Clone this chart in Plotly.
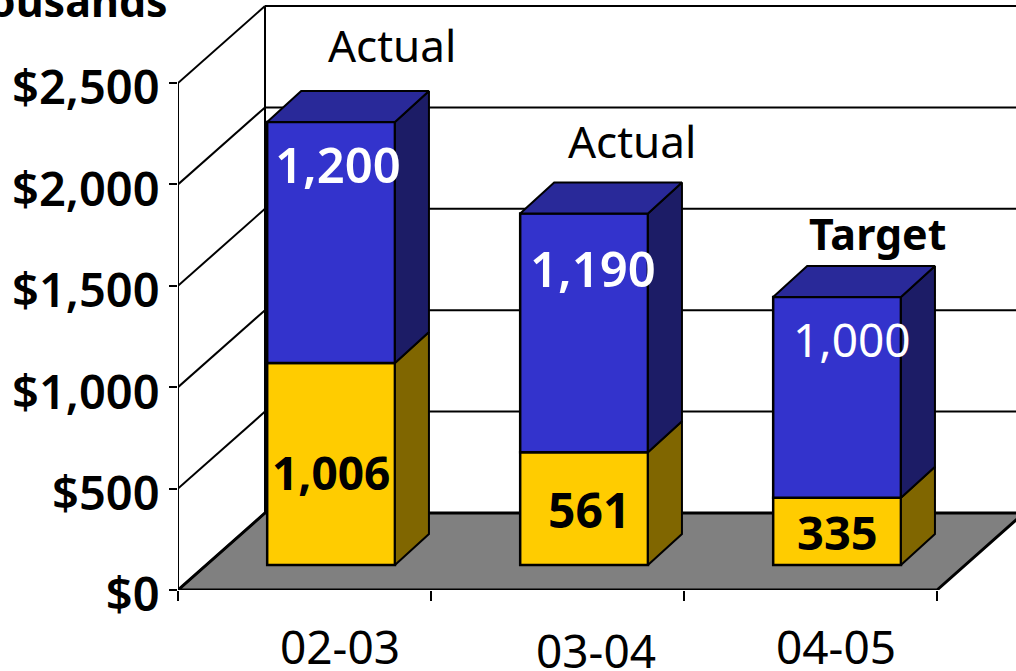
import plotly.graph_objects as go

categories = ["02-03", "03-04", "04-05"]
lower_values = [1006, 561, 335]
upper_values = [1200, 1190, 1000]
status_labels = ["Actual", "Actual", "Target"]
y_ticks = [0, 500, 1000, 1500, 2000, 2500]

W, H = 1016, 671
L, B = 178, 81
FONT = "Noto Sans"
YEL, YEL_S = "#FFCC00", "#806600"
BLU, BLU_S, BLU_T = "#3333CC", "#1C1C66", "#292999"

# Scales (px per unit) of the oblique projection
CAT_PX = 253.0
AX_PX = 507.0 / 2500
BAR_PX = 0.2008
x_range = [-0.5, -0.5 + (W - L) / CAT_PX]
y_top_px = H - B
y_range = [0, y_top_px / AX_PX]
bar_floor_px = 25
y2_range = [-bar_floor_px / BAR_PX, (y_top_px - bar_floor_px) / BAR_PX]

wall_dx, wall_dy = 87 / CAT_PX, 77 / AX_PX
bar_dx, bar_dy = 34 / CAT_PX, 31 / BAR_PX
bar_shift, bar_w = 0.105, 0.505

def px(v):
    return (v - L) / (W - L)
def py(v):
    return (H - B - v) / (H - B)

xs = [i + bar_shift for i in range(len(categories))]
fig = go.Figure()

fig.add_trace(go.Bar(x=xs, y=lower_values, width=bar_w, yaxis="y2", marker=dict(color=YEL, line=dict(color="black", width=2.5)), showlegend=False))
fig.add_trace(go.Bar(x=xs, y=upper_values, base=lower_values, width=bar_w, yaxis="y2", marker=dict(color=BLU, line=dict(color="black", width=2.5)), showlegend=False))

def face(xv, yv, color):
    fig.add_trace(go.Scatter(x=xv + xv[:1], y=yv + yv[:1], yaxis="y2", mode="lines", fill="toself", fillcolor=color,
                             line=dict(color="black", width=2), showlegend=False, hoverinfo="skip"))

for x, lo, up in zip(xs, lower_values, upper_values):
    r = x + bar_w / 2
    l = x - bar_w / 2
    top = lo + up
    face([r, r + bar_dx, r + bar_dx, r], [0, bar_dy, lo + bar_dy, lo], YEL_S)
    face([r, r + bar_dx, r + bar_dx, r], [lo, lo + bar_dy, top + bar_dy, top], BLU_S)
    face([l, l + bar_dx, r + bar_dx, r], [top, top + bar_dy, top + bar_dy, top], BLU_T)

shapes = []
x0 = x_range[0]
xn = x_range[0] + 3
lw = 2
# floor
shapes.append(dict(type="path", xref="x", yref="y", layer="below", fillcolor="#808080",
                   line=dict(color="black", width=3),
                   path=f"M{x0},0 L{xn},0 L{xn + wall_dx},{wall_dy} L{x0 + wall_dx},{wall_dy} Z"))
for t in y_ticks:
    shapes.append(dict(type="line", xref="x", yref="y", layer="below", x0=x0, y0=t, x1=x0 + wall_dx, y1=t + wall_dy, line=dict(color="black", width=lw)))
    shapes.append(dict(type="line", xref="x", yref="y", layer="below", x0=x0 + wall_dx, y0=t + wall_dy, x1=x_range[1] + 1, y1=t + wall_dy, line=dict(color="black", width=lw)))
shapes.append(dict(type="line", xref="x", yref="y", layer="below", x0=x0, y0=0, x1=x0, y1=y_ticks[-1], line=dict(color="black", width=lw)))
shapes.append(dict(type="line", xref="x", yref="y", layer="below", x0=x0 + wall_dx, y0=wall_dy, x1=x0 + wall_dx, y1=y_ticks[-1] + wall_dy, line=dict(color="black", width=lw)))

def note(text, cx, cy, size=44, color="black", weight=400, **kw):
    return dict(text=text, xref="paper", yref="paper", x=px(cx), y=py(cy), showarrow=False,
                xanchor="center", yanchor="middle", font=dict(family=FONT, size=size, color=color, weight=weight), **kw)

fmt = lambda v: f"{v:,}"
ann = [
    note(categories[0], 340, 646, 46, height=48),
    note(categories[1], 596, 646, 46, height=48, yshift=-4),
    note(categories[2], 836, 646, 46, height=48),
    note(status_labels[0], 392, 45, 44),
    note(status_labels[1], 632, 141, 44),
    note(status_labels[2], 877, 234, 43, weight=700),
    note(fmt(upper_values[0]), 338, 164, 49, "white", 600),
    note(fmt(upper_values[1]), 593, 268, 49, "white", 600),
    note(fmt(upper_values[2]), 852, 339, 46, "white"),
    note(fmt(lower_values[0]), 331, 472, 46, weight=700),
    note(fmt(lower_values[1]), 589, 509, 48, weight=700),
    note(fmt(lower_values[2]), 837, 532, 47, weight=700),
    dict(text="<b>Thousands</b>", xref="paper", yref="paper", x=px(170), y=py(0), showarrow=False, xanchor="right", yanchor="middle",
         font=dict(family=FONT, size=43, color="black")),
]

fig.update_layout(
    width=W, height=H, margin=dict(l=L, r=0, t=0, b=B), paper_bgcolor="white", plot_bgcolor="white",
    barmode="overlay", showlegend=False, shapes=shapes, annotations=ann,
    xaxis=dict(range=x_range, tickmode="array", tickvals=[x0 + i for i in range(4)], ticktext=["", "", "", ""],
               ticks="outside", ticklen=10, tickwidth=2, tickcolor="black", showgrid=False, zeroline=False, showline=False, fixedrange=True),
    yaxis=dict(range=y_range, tickmode="array", tickvals=y_ticks, ticktext=[f"${t:,}" for t in y_ticks],
               ticks="outside", ticklen=8, tickwidth=2, tickcolor="black", showgrid=False, zeroline=False, showline=False,
               ticklabelshift=5, ticklabelstandoff=0,
               tickfont=dict(family=FONT, size=47, color="black", weight=600), fixedrange=True),
    yaxis2=dict(range=y2_range, overlaying="y", side="left", visible=False, fixedrange=True),
)

fig.write_html("out.html", config=dict(displayModeBar=False),
               post_script="document.body.style.margin='0';document.body.style.overflow='hidden';")
